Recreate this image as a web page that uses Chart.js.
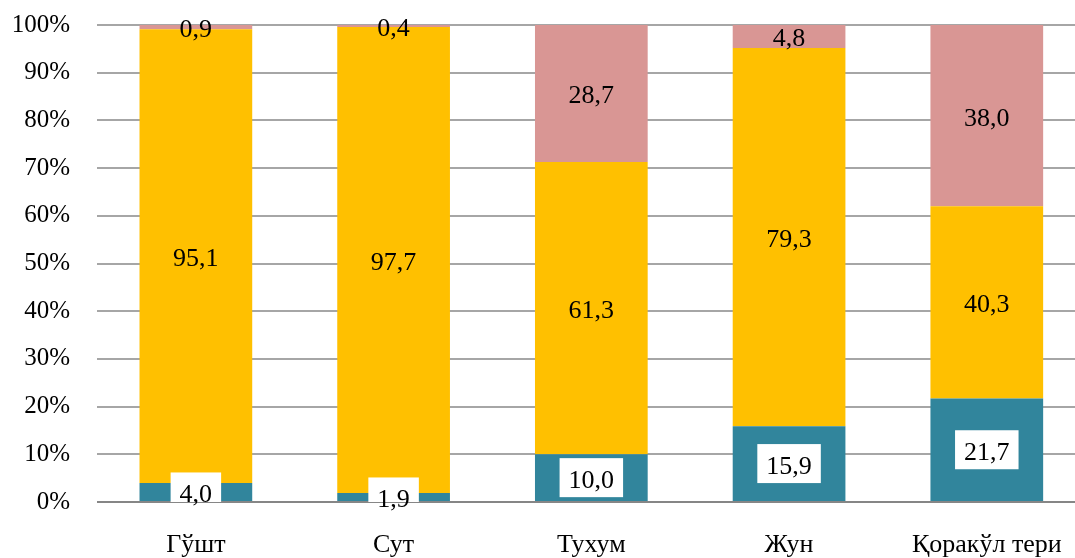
<!DOCTYPE html>
<html>
<head>
<meta charset="utf-8">
<script src="https://cdn.jsdelivr.net/npm/chart.js@4"></script>
<style>
	html, body { margin: 0; padding: 0; overflow: hidden; background: #fff; }
	#wrap { position: relative; width: 1090px; height: 558px; }
</style>
</head>
<body>
<div id="wrap"><canvas id="chart"></canvas></div>
<script>
const categories = ["Гўшт", "Сут", "Тухум", "Жун", "Қоракўл тери"];
const tealValues = [4.0, 1.9, 10.0, 15.9, 21.7];
const yellowValues = [95.1, 97.7, 61.3, 79.3, 40.3];
const pinkValues = [0.9, 0.4, 28.7, 4.8, 38.0];
const tickLabels = ["0%", "10%", "20%", "30%", "40%", "50%", "60%", "70%", "80%", "90%", "100%"];

const font = "'Liberation Serif', 'Times New Roman', serif";

const fmt = v => v.toFixed(1).replace('.', ',');

// value labels, the bottom series gets a white box (clipped to the plot)
const labelPlugin = {
	id: 'labels',
	afterDatasetsDraw(chart) {
		const ctx = chart.ctx;
		const area = chart.chartArea;
		ctx.save();
		ctx.font = `26px ${font}`;
		ctx.textAlign = 'center';
		ctx.textBaseline = 'alphabetic';
		chart.data.datasets.forEach((ds, i) => {
			const meta = chart.getDatasetMeta(i);
			meta.data.forEach((bar, j) => {
				const text = fmt(ds.data[j]);
				const y = (bar.y + bar.base) / 2;
				if (i === 0) {
					const w = ctx.measureText(text).width + 18;
					const h = 39;
					ctx.save();
					ctx.beginPath();
					ctx.rect(area.left, area.top, area.right - area.left, area.bottom - area.top);
					ctx.clip();
					ctx.fillStyle = '#ffffff';
					ctx.fillRect(bar.x - w / 2, y - h / 2, w, h);
					ctx.restore();
				}
				ctx.fillStyle = '#000000';
				ctx.fillText(text, bar.x, y + 10);
			});
		});
		ctx.restore();
	}
};

new Chart(document.getElementById("chart"), {
	type: "bar",
	data: {
		labels: categories,
		datasets: [
			{ label: "a", data: tealValues, backgroundColor: "#31859C" },
			{ label: "b", data: yellowValues, backgroundColor: "#FFC000" },
			{ label: "c", data: pinkValues, backgroundColor: "#D99694" },
		],
	},
	options: {
		responsive: true,
		maintainAspectRatio: false,
		animation: false,
		layout: { padding: { top: 25, right: 3, left: 0, bottom: 0 } },
		datasets: { bar: { categoryPercentage: 1, barPercentage: 0.57 } },
		plugins: {
			legend: { display: false },
			tooltip: { enabled: false },
		},
		scales: {
			x: {
				stacked: true,
				grid: { display: false, drawTicks: false },
				border: { display: false },
				ticks: { color: "#000", font: { family: font, size: 26 }, padding: 28 },
				afterFit: s => { s.height = 56; },
			},
			y: {
				stacked: true,
				min: 0,
				max: 100,
				ticks: {
					stepSize: 10,
					color: "#000",
					font: { family: font, size: 25 },
					padding: 27,
					callback: (v, i) => tickLabels[i],
				},
				grid: {
					drawTicks: false,
					lineWidth: 2,
					color: c => c.tick && c.tick.value === 0 ? "#868686" : "#A6A6A6",
				},
				border: { display: false },
				afterFit: s => { s.width = 97; s.paddingTop = 0; s.paddingBottom = 0; },
			},
		},
	},
	plugins: [labelPlugin],
});
</script>
</body>
</html>
